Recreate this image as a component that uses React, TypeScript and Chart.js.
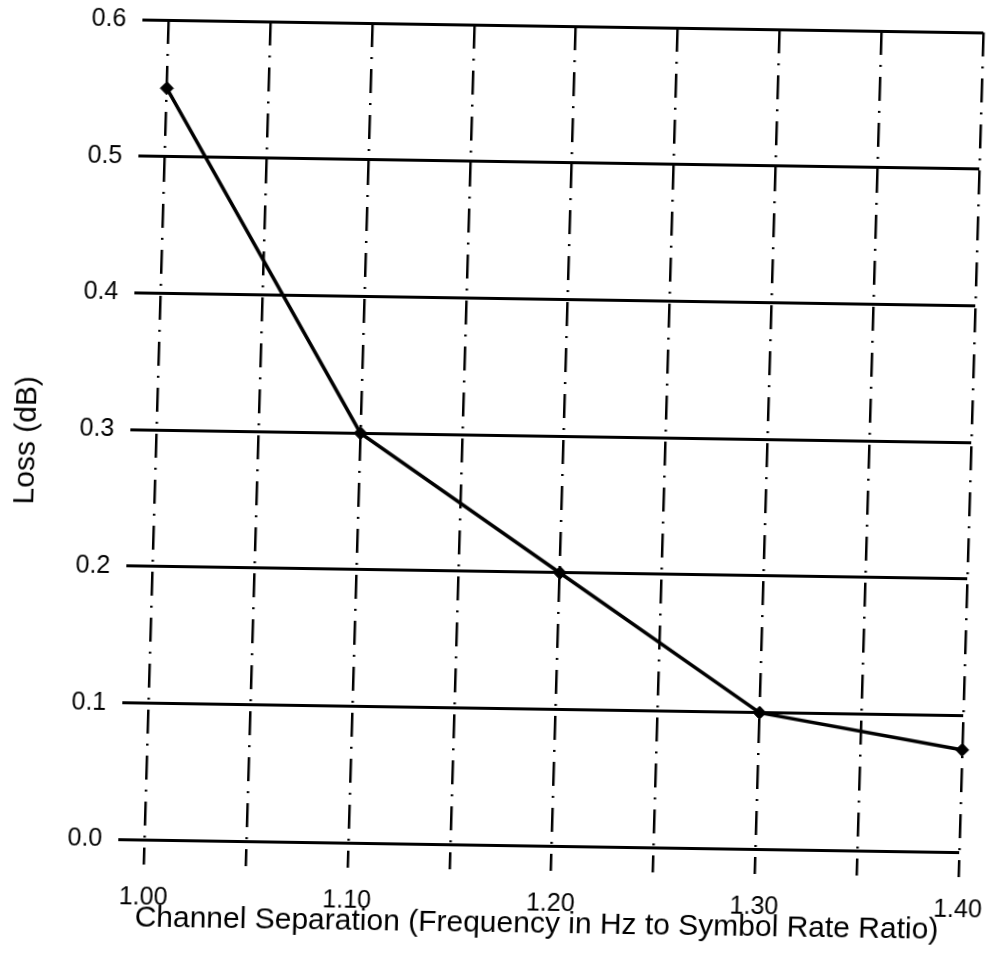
import React, { useEffect, useRef } from "react";
import { Chart, registerables } from "chart.js";

Chart.register(...registerables);

// ---- data ----
const separations = [1.0, 1.1, 1.2, 1.3, 1.4];
const lossDb = [0.55, 0.3, 0.2, 0.1, 0.075];
const xGridValues = [1.0, 1.05, 1.1, 1.15, 1.2, 1.25, 1.3, 1.35, 1.4];
const xTickLabels = ["1.00", "1.10", "1.20", "1.30", "1.40"];
const yGridValues = [0.0, 0.1, 0.2, 0.3, 0.4, 0.5, 0.6];
const xTitle = "Channel Separation (Frequency in Hz to Symbol Rate Ratio)";
const yTitle = "Loss (dB)";

const FONT = "'Liberation Sans', Arial, Helvetica, sans-serif";
const CANVAS_W = 1040;
const CANVAS_H = 953;

export default function App() {
  const ref = useRef<HTMLCanvasElement | null>(null);

  useEffect(() => {
    if (!ref.current) return;
    const chart = new Chart(ref.current, {
      type: "scatter",
      data: {
        datasets: [
          {
            data: separations.map((x, i) => ({ x, y: lossDb[i] })),
            showLine: true,
            clip: false,
            borderColor: "#000",
            backgroundColor: "#000",
            borderWidth: 3.5,
            pointStyle: "rectRot",
            pointRadius: 6.5,
            pointBorderWidth: 1,
            tension: 0,
          },
        ],
      },
      options: {
        animation: false,
        responsive: false,
        devicePixelRatio: 1,
        layout: { padding: { top: 26, right: CANVAS_W - 971, left: 0, bottom: 0 } },
        plugins: {
          legend: { display: false },
          tooltip: { enabled: false },
        },
        scales: {
          x: {
            type: "linear",
            min: 0.987,
            max: 1.4,
            afterBuildTicks: (scale: any) => {
              scale.ticks = xGridValues.map((v) => ({ value: v }));
            },
            afterFit: (scale: any) => {
              scale.height = 82;
              scale.paddingLeft = 0;
              scale.paddingRight = 0;
            },
            grid: {
              color: "#000",
              lineWidth: 2.5,
              drawTicks: false,
            },
            border: { display: false, dash: [24, 10, 2, 10] },
            ticks: {
              color: "#000",
              padding: 18,
              maxRotation: 0,
              autoSkip: false,
              font: { family: FONT, size: 25 },
              callback: (v: any) => {
                const s = Number(v).toFixed(2);
                return xTickLabels.includes(s) ? s : "";
              },
            },
            title: {
              display: true,
              text: xTitle,
              color: "#000",
              font: { family: FONT, size: 30 },
              padding: { top: 0, bottom: 10 },
            },
          },
          y: {
            type: "linear",
            min: -0.018,
            max: 0.6,
            afterBuildTicks: (scale: any) => {
              scale.ticks = yGridValues.map((v) => ({ value: v }));
            },
            afterFit: (scale: any) => {
              scale.width = 130;
              scale.paddingTop = 0;
              scale.paddingBottom = 0;
            },
            grid: {
              color: "#000",
              lineWidth: 3,
              drawTicks: false,
            },
            border: { display: false },
            ticks: {
              color: "#000",
              padding: 16,
              font: { family: FONT, size: 25 },
              callback: (v: any) => Number(v).toFixed(1),
            },
            title: {
              display: true,
              text: yTitle,
              color: "#000",
              font: { family: FONT, size: 30 },
              padding: { top: 9, bottom: 0 },
            },
          },
        },
      },
    });
    return () => chart.destroy();
  }, []);

  return (
    <div style={{ position: "absolute", left: 0, top: 0, width: 988, height: 953, background: "#fff", overflow: "hidden" }}>
      <canvas
        ref={ref}
        width={CANVAS_W}
        height={CANVAS_H}
        style={{
          width: CANVAS_W,
          height: CANVAS_H,
          display: "block",
          transform: "matrix(1, 0.0154, -0.0294, 1, 0, 0)",
          transformOrigin: "550px 448px",
        }}
      />
    </div>
  );
}
